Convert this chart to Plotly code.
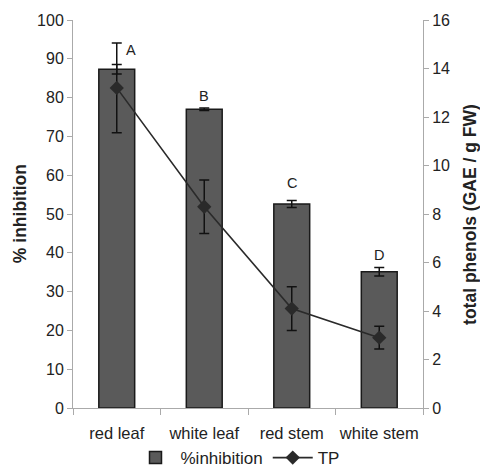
import plotly.graph_objects as go

categories = ["red leaf", "white leaf", "red stem", "white stem"]
inhibition = [87.3, 77.0, 52.6, 35.1]
inhibition_err = [1.2, 0.3, 0.9, 1.1]
tp = [13.2, 8.3, 4.1, 2.9]
tp_err = [1.85, 1.1, 0.9, 0.47]
letters = ["A", "B", "C", "D"]
letter_y = [92.3, 80.3, 58.0, 39.4]
letter_shift = [14, 0, 0, 0]

FONT = "Liberation Sans, Arial, sans-serif"
TXT = "#222222"

fig = go.Figure()
fig.add_trace(go.Bar(
    x=categories, y=inhibition, name="%inhibition",
    marker=dict(color="#5a5a5a", line=dict(color="#1a1a1a", width=1.5)),
    error_y=dict(type="data", array=inhibition_err, color="#111", thickness=1.5, width=5),
    yaxis="y",
))
fig.add_trace(go.Scatter(
    x=categories, y=tp, name="TP", mode="lines+markers",
    line=dict(color="#2a2a2a", width=1.6),
    marker=dict(symbol="diamond", size=11, color="#2a2a2a"),
    error_y=dict(type="data", array=tp_err, color="#111", thickness=1.5, width=5),
    yaxis="y2",
))

for c, t, yy, sh in zip(categories, letters, letter_y, letter_shift):
    fig.add_annotation(x=c, y=yy, xref="x", yref="y", text=t, showarrow=False,
                       xshift=sh, font=dict(size=14.5, color=TXT, family=FONT))

fig.add_annotation(x=-0.151, y=0.5, xref="paper", yref="paper", text="<b>% inhibition</b>",
                   textangle=-90, showarrow=False, xanchor="center", yanchor="middle",
                   font=dict(size=17.5, color=TXT, family=FONT))
fig.add_annotation(x=1.134, y=0.5, xref="paper", yref="paper",
                   text="<b>total phenols (GAE / g FW)</b>",
                   textangle=-90, showarrow=False, xanchor="center", yanchor="middle",
                   font=dict(size=17.5, color=TXT, family=FONT))

axis_common = dict(showgrid=False, zeroline=False, showline=True, linecolor="#aaaaaa",
                   linewidth=1, ticks="outside", tickcolor="#aaaaaa", ticklen=5,
                   automargin=False,
                   tickfont=dict(size=16, color=TXT, family=FONT))

fig.update_layout(
    width=480, height=469,
    margin=dict(l=73, r=57, t=20, b=61, autoexpand=False),
    paper_bgcolor="white", plot_bgcolor="white",
    bargap=0.59,
    showlegend=True,
    legend=dict(orientation="h", x=0.47, xanchor="center", y=-0.129, yanchor="middle",
                font=dict(size=17, color=TXT, family=FONT), itemwidth=40,
                tracegroupgap=0, bgcolor="rgba(0,0,0,0)"),
    xaxis=dict(showgrid=False, zeroline=False, showline=True, linecolor="#aaaaaa",
               ticks="outside", tickson="boundaries", tickcolor="#aaaaaa", ticklen=6,
               automargin=False, tickangle=0, ticklabelstandoff=10,
               tickfont=dict(size=16.5, color=TXT, family=FONT)),
    yaxis=dict(range=[0, 100], dtick=10, **axis_common),
    yaxis2=dict(range=[0, 16], dtick=2, overlaying="y", side="right", **axis_common),
    yaxis3=dict(range=[0, 100], dtick=10, overlaying="y", side="left", showgrid=False,
                zeroline=False, showline=False, ticks="inside", tickcolor="#aaaaaa",
                ticklen=5, showticklabels=False),
    yaxis4=dict(range=[0, 16], dtick=2, overlaying="y", side="right", showgrid=False,
                zeroline=False, showline=False, ticks="inside", tickcolor="#aaaaaa",
                ticklen=5, showticklabels=False),
)

fig.write_html("out.html", config={"displayModeBar": False},
               post_script="document.body.style.margin='0';document.body.style.overflow='hidden';")
